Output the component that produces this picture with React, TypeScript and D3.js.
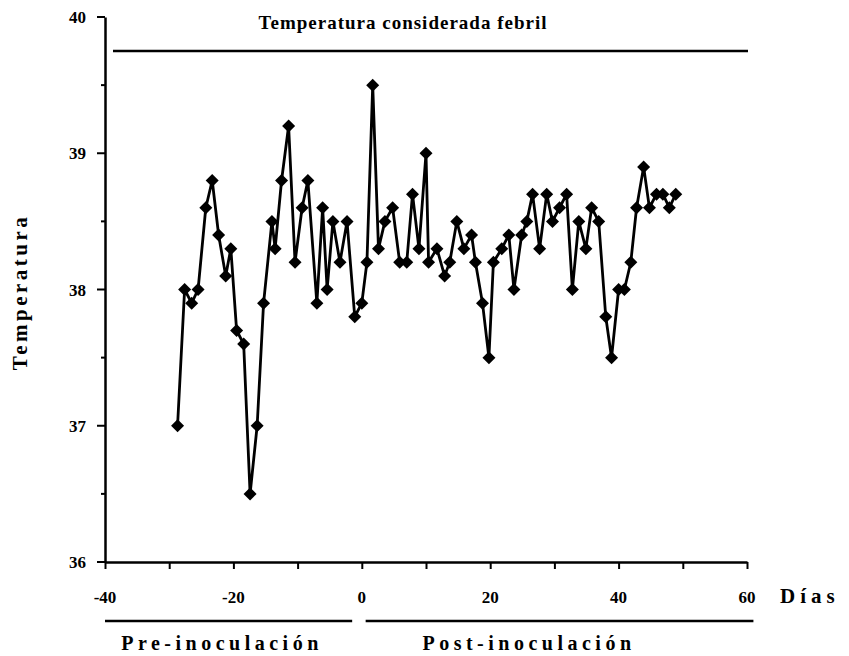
import React, { useEffect, useRef } from 'react';
import * as d3 from 'd3';

// days relative to inoculation
const days = [
  -28.7, -27.6, -26.5, -25.5, -24.3, -23.3, -22.3, -21.2, -20.4, -19.5,
  -18.4, -17.4, -16.3, -15.3, -14.0, -13.5, -12.5, -11.4, -10.4, -9.3,
  -8.4, -7.0, -6.1, -5.4, -4.5, -3.4, -2.3, -1.1,
  0.0, 0.8, 1.7, 2.6, 3.6, 4.8, 5.9, 7.0, 7.9, 8.9,
  10.0, 10.4, 11.7, 12.9, 13.7, 14.8, 15.9, 17.1, 17.7, 18.8,
  19.8, 20.5, 21.8, 22.9, 23.7, 24.9, 25.7, 26.6, 27.7, 28.8,
  29.7, 30.8, 31.9, 32.8, 33.8, 34.9, 35.8, 36.9, 38.0, 38.9,
  40.0, 40.9, 41.9, 42.8, 43.9, 44.8, 45.9, 46.9, 47.9, 48.9,
];

const temps = [
  37.0, 38.0, 37.9, 38.0, 38.6, 38.8, 38.4, 38.1, 38.3, 37.7,
  37.6, 36.5, 37.0, 37.9, 38.5, 38.3, 38.8, 39.2, 38.2, 38.6,
  38.8, 37.9, 38.6, 38.0, 38.5, 38.2, 38.5, 37.8,
  37.9, 38.2, 39.5, 38.3, 38.5, 38.6, 38.2, 38.2, 38.7, 38.3,
  39.0, 38.2, 38.3, 38.1, 38.2, 38.5, 38.3, 38.4, 38.2, 37.9,
  37.5, 38.2, 38.3, 38.4, 38.0, 38.4, 38.5, 38.7, 38.3, 38.7,
  38.5, 38.6, 38.7, 38.0, 38.5, 38.3, 38.6, 38.5, 37.8, 37.5,
  38.0, 38.0, 38.2, 38.6, 38.9, 38.6, 38.7, 38.7, 38.6, 38.7,
];

const xTicks = [-40, -20, 0, 20, 40, 60];
const xMinor = [-30, -10, 10, 30, 50];
const yTicks = [36, 37, 38, 39, 40];
const yMinor = [36.5, 37.5, 38.5, 39.5];
const febrile = 39.75;

const W = 849;
const H = 656;
const font = '"Liberation Serif", "DejaVu Serif", serif';

export default function App() {
  const ref = useRef<SVGSVGElement>(null);

  useEffect(() => {
    const svg = d3.select(ref.current);
    svg.selectAll('*').remove();

    const x = d3.scaleLinear().domain([-40, 60]).range([105, 747]);
    const y = d3.scaleLinear().domain([36, 40]).range([562, 17]);

    const g = svg.append('g').attr('font-family', font).attr('font-weight', 'bold');

    // x axis
    const xAxis = d3
      .axisBottom(x)
      .tickValues([...xTicks, ...xMinor])
      .tickSize(7)
      .tickSizeOuter(0)
      .tickFormat(() => '');
    g.append('g')
      .attr('transform', `translate(0,${y(36)})`)
      .call(xAxis)
      .call((s: any) => s.select('.domain').attr('stroke-width', 2.5))
      .call((s: any) => s.selectAll('.tick line').attr('stroke-width', 2));

    g.selectAll('.xlab')
      .data(xTicks)
      .join('text')
      .attr('x', (d: number) => x(d))
      .attr('y', 603)
      .attr('text-anchor', 'middle')
      .attr('font-size', 17)
      .text((d: number) => String(d));

    g.append('text')
      .attr('x', 780)
      .attr('y', 603)
      .attr('font-size', 21)
      .attr('letter-spacing', 5)
      .text('Días');

    // y axis
    const yAxis = d3
      .axisLeft(y)
      .tickValues([...yTicks, ...yMinor])
      .tickSize(0)
      .tickSizeOuter(0)
      .tickFormat(() => '');
    g.append('g')
      .attr('transform', `translate(${x(-40)},0)`)
      .call(yAxis)
      .call((s: any) => s.select('.domain').attr('stroke-width', 2.5));

    g.selectAll('.ytick')
      .data([...yTicks, ...yMinor])
      .join('line')
      .attr('x1', x(-40))
      .attr('x2', (d: number) => x(-40) - (Number.isInteger(d) ? 8 : 4))
      .attr('y1', (d: number) => y(d))
      .attr('y2', (d: number) => y(d))
      .attr('stroke', '#000')
      .attr('stroke-width', 2);

    g.selectAll('.ylab')
      .data(yTicks)
      .join('text')
      .attr('x', 86)
      .attr('y', (d: number) => y(d) + 6)
      .attr('text-anchor', 'end')
      .attr('font-size', 17)
      .text((d: number) => String(d));

    g.append('text')
      .attr('transform', 'translate(27,292) rotate(-90)')
      .attr('text-anchor', 'middle')
      .attr('font-size', 21)
      .attr('letter-spacing', 3.5)
      .text('Temperatura');

    // febrile threshold
    g.append('line')
      .attr('x1', 113)
      .attr('x2', 748)
      .attr('y1', y(febrile))
      .attr('y2', y(febrile))
      .attr('stroke', '#000')
      .attr('stroke-width', 2.5);

    g.append('text')
      .attr('x', 403)
      .attr('y', 29)
      .attr('text-anchor', 'middle')
      .attr('font-size', 19)
      .attr('letter-spacing', 1)
      .text('Temperatura considerada febril');

    // series
    const pts = days.map((d, i) => [d, temps[i]] as [number, number]);
    const line = d3
      .line<[number, number]>()
      .x((d) => x(d[0]))
      .y((d) => y(d[1]));
    g.append('path')
      .datum(pts)
      .attr('d', line)
      .attr('fill', 'none')
      .attr('stroke', '#000')
      .attr('stroke-width', 2.8)
      .attr('stroke-linejoin', 'round');

    g.selectAll('.mk')
      .data(pts)
      .join('path')
      .attr('d', (d: [number, number]) => {
        const cx = x(d[0]);
        const cy = y(d[1]);
        const r = 6.5;
        return `M${cx},${cy - r}L${cx + r},${cy}L${cx},${cy + r}L${cx - r},${cy}Z`;
      })
      .attr('fill', '#000');

    // pre / post inoculation bands
    const bands = [
      { from: -40, to: -1.5, label: 'Pre-inoculación', cx: 222 },
      { from: 0.6, to: 61, label: 'Post-inoculación', cx: 529 },
    ];
    bands.forEach((b) => {
      g.append('line')
        .attr('x1', x(b.from))
        .attr('x2', x(b.to))
        .attr('y1', 621)
        .attr('y2', 621)
        .attr('stroke', '#000')
        .attr('stroke-width', 2.5);
      g.append('text')
        .attr('x', b.cx)
        .attr('y', 650)
        .attr('text-anchor', 'middle')
        .attr('font-size', 20)
        .attr('letter-spacing', 4.5)
        .text(b.label);
    });
  }, []);

  return (
    <svg
      ref={ref}
      width={W}
      height={H}
      style={{ position: 'absolute', left: 0, top: 0, background: '#fff' }}
    />
  );
}
